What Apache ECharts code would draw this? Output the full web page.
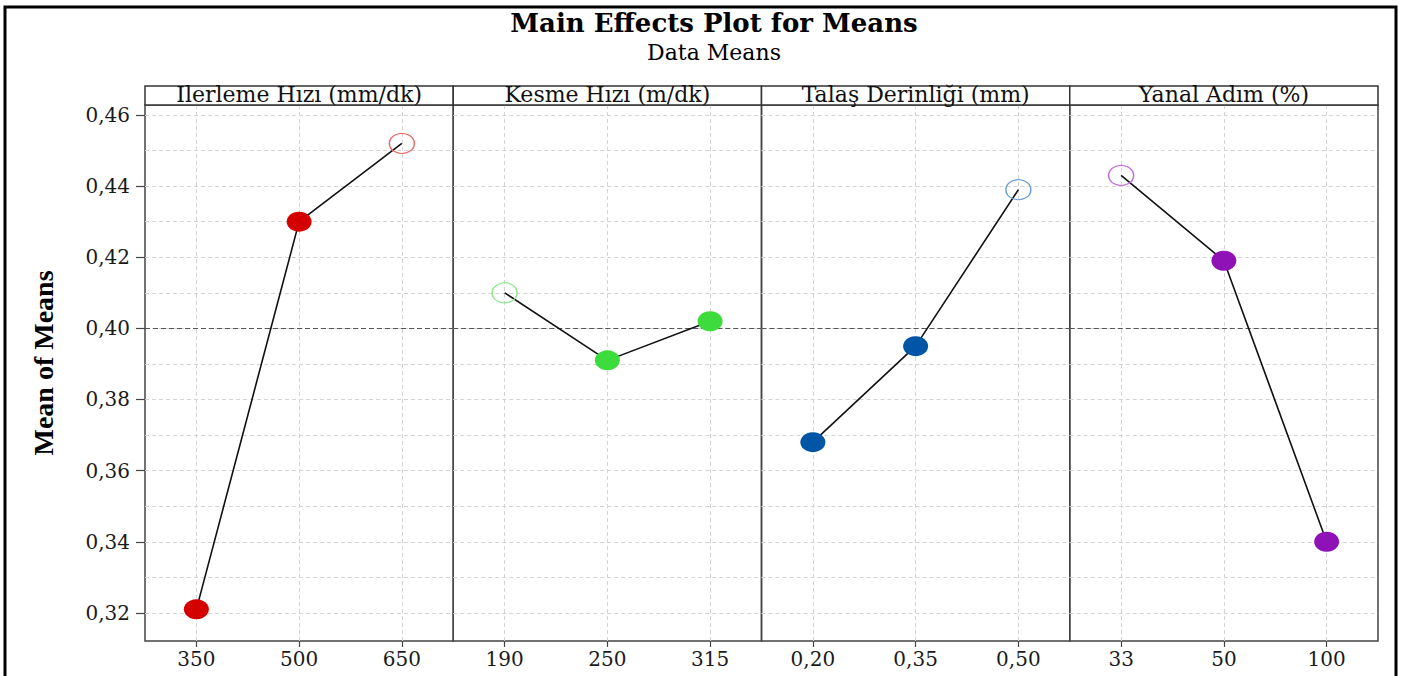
<!DOCTYPE html>
<html><head><meta charset="utf-8">
<script src="https://cdn.jsdelivr.net/npm/echarts@6/dist/echarts.min.js"></script>
<style>html,body{margin:0;padding:0;background:#fff}#c{width:1403px;height:676px}</style>
</head><body><div id="c"></div>
<script>
// ---- data ----
const titleText = 'Main Effects Plot for Means';
const subtitleText = 'Data Means';
const yAxisTitle = 'Mean of Means';
const factorNames = ['Ilerleme Hızı (mm/dk)', 'Kesme Hızı (m/dk)', 'Talaş Derinliği (mm)', 'Yanal Adım (%)'];
const levelsFeed = ['350', '500', '650'];
const levelsSpeed = ['190', '250', '315'];
const levelsDepth = ['0,20', '0,35', '0,50'];
const levelsStep = ['33', '50', '100'];
const meansFeed = [0.321, 0.430, 0.452];
const meansSpeed = [0.410, 0.391, 0.402];
const meansDepth = [0.368, 0.395, 0.439];
const meansStep = [0.443, 0.419, 0.340];
const yTickValues = [0.32, 0.34, 0.36, 0.38, 0.40, 0.42, 0.44, 0.46];
const gridLineValues = [0.32, 0.33, 0.34, 0.35, 0.36, 0.37, 0.38, 0.39, 0.40, 0.41, 0.42, 0.43, 0.44, 0.45, 0.46];
const yMin = 0.3121, yMax = 0.4628;

// ---- styling / layout ----
const levels = [levelsFeed, levelsSpeed, levelsDepth, levelsStep];
const means = [meansFeed, meansSpeed, meansDepth, meansStep];
const fillColors = ['#d40000', '#3ddc3d', '#0055a6', '#8e12b6'];
const ringColors = ['#e86a6a', '#8fe88f', '#6a9ed6', '#c46ae0'];
const plotLeft = 145, plotRight = 1378, plotTop = 105, plotBottom = 641, stripTop = 86;
const panelW = (plotRight - plotLeft) / 4;
const serif = 'DejaVu Serif';
const all = [].concat(...means);
const grandMean = all.reduce((a, b) => a + b, 0) / all.length;
const fmt = v => v.toFixed(2).replace('.', ',');

const grids = [], xAxes = [], yAxes = [], series = [], graphics = [];
graphics.push({type: 'rect', shape: {x: 5, y: 7, width: 1391, height: 700}, style: {fill: 'none', stroke: '#000', lineWidth: 3}, z: 100});
for (let i = 0; i < 4; i++) {
  const left = plotLeft + i * panelW;
  grids.push({left: left, top: plotTop, width: panelW, height: plotBottom - plotTop, show: true, borderColor: '#444', borderWidth: 1.5, backgroundColor: 'transparent'});
  xAxes.push({type: 'category', gridIndex: i, data: levels[i], boundaryGap: true,
    axisLine: {show: false}, splitLine: {show: false},
    axisTick: {show: true, alignWithLabel: true, length: 6, lineStyle: {color: '#444', width: 1.2}},
    axisLabel: {fontFamily: serif, fontSize: 20, color: '#1a1a1a', margin: 8}});
  const first = i === 0;
  yAxes.push({type: 'value', gridIndex: i, min: yMin, max: yMax,
    axisLine: {show: false}, splitLine: {show: false},
    axisTick: {show: first, customValues: yTickValues, length: 9, lineStyle: {color: '#444', width: 1.2}},
    axisLabel: {show: first, customValues: yTickValues, formatter: fmt, fontFamily: serif, fontSize: 20, color: '#1a1a1a', margin: 15},
    name: first ? yAxisTitle : '', nameLocation: 'middle', nameRotate: 90, nameGap: 88,
    nameTextStyle: {fontFamily: 'Liberation Serif', fontWeight: 'bold', fontSize: 28, color: '#000', padding: [0, 0, 0, 20]}});
  const maxIdx = means[i].indexOf(Math.max(...means[i]));
  series.push({type: 'line', xAxisIndex: i, yAxisIndex: i, data: means[i], symbol: 'none', silent: true,
    lineStyle: {opacity: 0}, z: 1, animation: false,
    markLine: {z: 1, silent: true, symbol: 'none', animation: false, label: {show: false},
      lineStyle: {color: '#d4d4d4', type: [4, 3], width: 1},
      data: gridLineValues.map(v => ({yAxis: v})).concat(levels[i].map(c => ({xAxis: c})))}});
  series.push({type: 'line', xAxisIndex: i, yAxisIndex: i, data: means[i], symbol: 'none', silent: true,
    lineStyle: {opacity: 0}, z: 2, animation: false,
    markLine: {z: 2, silent: true, symbol: 'none', animation: false, label: {show: false},
      lineStyle: {color: '#555', type: [5, 3], width: 1}, data: [{yAxis: grandMean}]}});
  series.push({type: 'line', xAxisIndex: i, yAxisIndex: i, z: 5, animation: false,
    symbol: 'circle', symbolSize: [25, 20],
    lineStyle: {color: '#111', width: 1.6},
    itemStyle: {color: fillColors[i]},
    data: means[i].map((v, j) => ({value: v, itemStyle: j === maxIdx
      ? {color: 'rgba(255,255,255,0)', borderColor: ringColors[i], borderWidth: 1.3}
      : {color: fillColors[i], borderWidth: 0}}))});
  graphics.push({type: 'rect', shape: {x: left, y: stripTop, width: panelW, height: plotTop - stripTop},
    style: {fill: '#fff', stroke: '#333', lineWidth: 1.5}, z: 10});
  graphics.push({type: 'text', x: left + panelW / 2, y: 94, z: 11,
    style: {text: factorNames[i], fontFamily: serif, fontSize: 22, fill: '#111', align: 'center', verticalAlign: 'middle'}});
}

const chart = echarts.init(document.getElementById('c'), null, {renderer: 'svg'});
chart.setOption({
  animation: false,
  backgroundColor: '#fff',
  title: [
    {text: titleText, left: 714, top: 10, textAlign: 'center', padding: 0,
      textStyle: {fontFamily: serif, fontWeight: 'bold', fontSize: 26, lineHeight: 26, color: '#000'}},
    {text: subtitleText, left: 714, top: 41, textAlign: 'center', padding: 0,
      textStyle: {fontFamily: serif, fontWeight: 'normal', fontSize: 22, lineHeight: 22, color: '#000'}}
  ],
  grid: grids, xAxis: xAxes, yAxis: yAxes, series: series, graphic: graphics
});
</script></body></html>
